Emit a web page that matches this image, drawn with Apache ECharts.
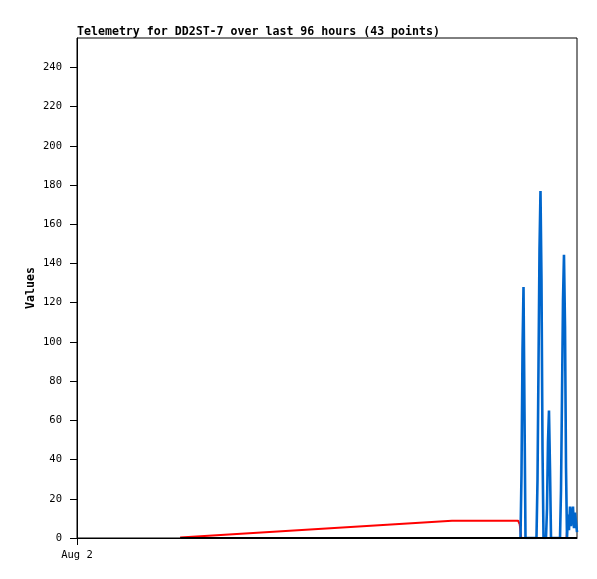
<!DOCTYPE html>
<html>
<head>
<meta charset="utf-8">
<script src="https://cdn.jsdelivr.net/npm/echarts@6/dist/echarts.min.js"></script>
<style>html,body{margin:0;padding:0;background:#fff}#c{width:597px;height:579px}</style>
</head>
<body>
<div id="c"></div>
<script>
// x values in hours since the start of the window (Aug 2 at 0h, window = 96h)
const titleText = 'Telemetry for DD2ST-7 over last 96 hours (43 points)';
const xStartLabel = 'Aug 2';
const yTicks = [0, 20, 40, 60, 80, 100, 120, 140, 160, 180, 200, 220, 240];

const redHours  = [19.8, 72.0, 84.7, 85.0, 85.3, 94.0, 94.2, 96.0];
const redValues = [0.3, 8.8, 8.8, 7.0, 0, 0, 8.8, 8.8];

const blueHours = [85.15, 85.34, 85.54, 85.73, 85.92, 86.11,
  88.22, 88.42, 88.61, 88.80, 88.99, 89.18, 89.38, 89.57,
  90.05, 90.24, 90.43, 90.62, 90.82, 91.01,
  92.74, 92.93, 93.12, 93.31, 93.50, 93.70, 93.89, 94.08,
  94.27, 94.46, 94.66, 94.85, 95.04, 95.23, 95.42, 95.62, 95.81, 96.0];
const blueValues = [0, 32, 96, 128, 64, 0,
  0, 30, 88, 147, 177, 132, 45, 0,
  0, 15, 49, 65, 35, 0,
  0, 24.5, 72, 121, 144.5, 108, 36, 0,
  12, 4, 16, 6, 12, 16, 5, 13, 8, 3];

const blackHours  = [19.8, 96.0];
const blackValues = [0, 0];

const zip = (a, b) => a.map((v, i) => [v, b[i]]);
const mono = 'DejaVu Sans Mono';

const chart = echarts.init(document.getElementById('c'), null, {renderer: 'canvas'});
chart.setOption({
  animation: false,
  backgroundColor: '#fff',
  title: {
    text: titleText, left: 77, top: 26, padding: 0,
    textStyle: {fontFamily: mono, fontSize: 11.6, fontWeight: 'bold', color: '#000'}
  },
  grid: {left: 77, right: 20, top: 38, bottom: 41, show: true, borderColor: '#000', borderWidth: 1, containLabel: false},
  xAxis: {
    type: 'value', min: 0, max: 96,
    axisLine: {show: true, lineStyle: {color: '#000', width: 1}},
    axisTick: {show: true, length: 7, lineStyle: {color: '#000'}, customValues: [0]},
    axisLabel: {fontFamily: mono, fontSize: 10.5, color: '#000', margin: 12,
      customValues: [0], formatter: v => (v === 0 ? xStartLabel : '')},
    splitLine: {show: false}
  },
  yAxis: {
    type: 'value', min: 0, max: 255,
    name: 'Values', nameLocation: 'middle', nameGap: 40, nameMoveOverlap: false,
    nameTextStyle: {fontFamily: mono, fontSize: 11.6, fontWeight: 'bold', color: '#000'},
    axisLine: {show: true, lineStyle: {color: '#000', width: 1}},
    axisTick: {show: true, length: 7, lineStyle: {color: '#000'}, customValues: yTicks},
    axisLabel: {fontFamily: mono, fontSize: 10.5, color: '#000', margin: 15, customValues: yTicks},
    splitLine: {show: false}
  },
  series: [
    {type: 'line', data: zip(redHours, redValues), symbol: 'none', lineStyle: {color: '#ff0000', width: 2}, z: 2},
    {type: 'line', data: zip(blueHours, blueValues), symbol: 'none', lineStyle: {color: '#0066cc', width: 2.6, join: 'miter', miterLimit: 1}, z: 3},
    {type: 'line', data: zip(blackHours, blackValues), symbol: 'none', lineStyle: {color: '#000', width: 2}, z: 4}
  ]
});
</script>
</body>
</html>
